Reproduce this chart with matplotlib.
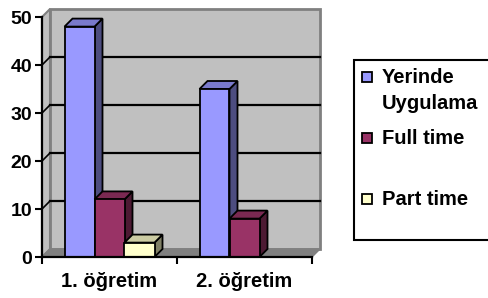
import numpy as np
import matplotlib
matplotlib.use("Agg")
import matplotlib.pyplot as plt
from matplotlib.patches import Polygon, Rectangle

plt.rcParams['font.family'] = ['Liberation Sans', 'DejaVu Sans']
plt.rcParams['font.weight'] = 'bold'

categories = ["1. öğretim", "2. öğretim"]
series_names = ["Yerinde\nUygulama", "Full time", "Part time"]
yerinde = [48, 35]
full_time = [12, 8]
part_time = [3, 0]
values = [yerinde, full_time, part_time]

face_colors = ["#9999FF", "#993366", "#FFFFCC"]
side_colors = ["#4D4D80", "#4D1A33", "#808066"]
top_colors = ["#7A7ACC", "#7A2952", "#CCCCA3"]

W, H = 489, 298
fig = plt.figure(figsize=(W / 100, H / 100), dpi=100)
fig.patch.set_facecolor("white")

# front face of the plot box in pixels
left, right, bottom, top = 42, 312, 257, 17
ax = fig.add_axes([left / W, (H - bottom) / H, (right - left) / W, (bottom - top) / H])
ax.set_xlim(0, len(categories))
ax.set_ylim(0, 50)
ax.set_facecolor("none")

# depth of the 3d effect, 8 px converted into data units
px_x = len(categories) / (right - left)
px_y = 50 / (bottom - top)
dx, dy = 8 * px_x, 8 * px_y
ncat = len(categories)

# back wall, side wall, floor
ax.add_patch(Polygon([(dx, dy), (ncat + dx, dy), (ncat + dx, 50 + dy), (dx, 50 + dy)],
                     closed=True, fc="#C0C0C0", ec="#808080", lw=2, clip_on=False, zorder=0))
ax.add_patch(Polygon([(0, 0), (dx, dy), (dx, 50 + dy), (0, 50)],
                     closed=True, fc="#C0C0C0", ec="#808080", lw=1.5, clip_on=False, zorder=0.5))
ax.add_patch(Polygon([(0, 0), (ncat, 0), (ncat + dx, dy), (dx, dy)],
                     closed=True, fc="#808080", ec="#808080", lw=1, clip_on=False, zorder=0.5))

# gridlines on the back and side wall
for v in [10, 20, 30, 40]:
    ax.plot([dx, ncat + dx], [v + dy, v + dy], color="black", lw=1.6, clip_on=False, zorder=1)
    ax.plot([0, dx], [v, v + dy], color="black", lw=1.2, clip_on=False, zorder=1)

# bars
nser = len(values)
bw = 1 / (nser + 1.5)
gap = 1.5 * bw / 2
z = 2
for c in range(ncat):
    for s in range(nser):
        v = values[s][c]
        if v == 0:
            continue
        x0 = c + gap + s * bw
        x1 = x0 + bw
        ax.add_patch(Polygon([(x1, 0), (x1 + dx, dy), (x1 + dx, v + dy), (x1, v)],
                             closed=True, fc=side_colors[s], ec="black", lw=1.3,
                             clip_on=False, zorder=z))
        ax.add_patch(Polygon([(x0, v), (x0 + dx, v + dy), (x1 + dx, v + dy), (x1, v)],
                             closed=True, fc=top_colors[s], ec="black", lw=1.3,
                             clip_on=False, zorder=z))
        ax.bar(x0, v, width=bw, align="edge", color=face_colors[s], edgecolor="black",
               lw=1.3, zorder=z + 0.5, clip_on=False)
        z += 1

for sp in ["top", "right"]:
    ax.spines[sp].set_visible(False)
for sp in ["left", "bottom"]:
    ax.spines[sp].set_color("black")
    ax.spines[sp].set_linewidth(1.6)
    ax.spines[sp].set_zorder(20)

ax.set_yticks([0, 10, 20, 30, 40, 50])
ax.set_xticks([0, 1, 2], minor=False)
ax.set_xticklabels([])
ax.set_xticks([0.5, 1.5], minor=True)
ax.set_xticklabels(categories, minor=True)
ax.tick_params(axis="x", which="minor", length=0, pad=11, labelsize=14.5)
ax.tick_params(axis="x", which="major", length=5, width=1.5, direction="out")
ax.tick_params(axis="y", length=5, width=1.5, direction="out", pad=2, labelsize=14)
for lab in ax.get_yticklabels() + ax.get_xticklabels(minor=True):
    lab.set_fontweight("bold")

# legend box drawn by hand so the entries are spaced like the original
fig.patches.append(Rectangle((354 / W, (H - 240) / H), 140 / W, 180 / H,
                             transform=fig.transFigure, fc="white", ec="black", lw=1.5))
for i, name in enumerate(series_names):
    ytop = 71 + i * 61
    fig.patches.append(Rectangle((362 / W, (H - ytop - 11) / H), 10 / W, 10 / H,
                                 transform=fig.transFigure, fc=face_colors[i], ec="black", lw=1.3))
    fig.text(382 / W, (H - ytop + 3) / H, name, fontsize=14.5, fontweight="bold",
             va="top", ha="left", linespacing=1.45)

fig.savefig("out.png", dpi=100)
